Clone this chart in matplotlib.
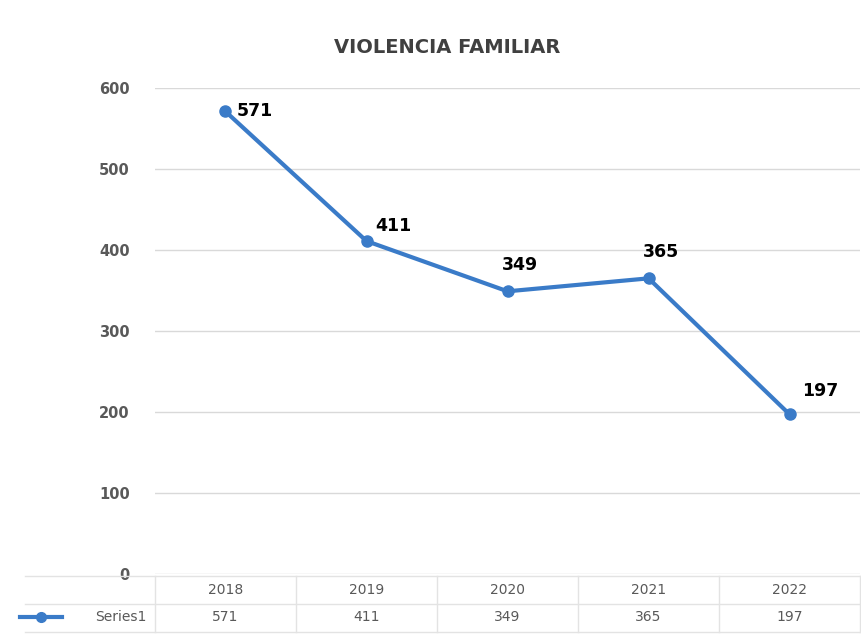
import numpy as np
import matplotlib.pyplot as plt
from matplotlib.transforms import blended_transform_factory
from matplotlib.lines import Line2D

years = ['2018', '2019', '2020', '2021', '2022']
values = [571, 411, 349, 365, 197]
series_name = 'Series1'

blue = '#3a7bc8'
grey = '#595959'

fig = plt.figure(figsize=(8.61, 6.39), dpi=100)
ax = fig.add_axes([0.18, 0.1017, 0.819, 0.7606])

x = np.arange(len(years))
ax.plot(x, values, color=blue, lw=3, marker='o', ms=8, zorder=3)

# etiquetas de datos (desplazamiento en puntos)
offsets = [(8, 0), (6, 11), (-4, 19), (-4, 19), (9, 17)]
for xi, v, (dx, dy) in zip(x, values, offsets):
    ax.annotate(str(v), (xi, v), xytext=(dx, dy), textcoords='offset points',
                fontsize=12.5, fontweight='bold', color='black',
                ha='left', va='center')

ax.set_xlim(-0.5, len(years) - 0.5)
ax.set_ylim(0, 600)
ax.set_yticks(range(0, 601, 100))
ax.yaxis.grid(True, color='#d9d9d9', lw=1)
ax.set_axisbelow(True)
ax.set_xticks([])
for s in ax.spines.values():
    s.set_visible(False)
ax.tick_params(axis='y', length=0, pad=18, labelsize=10.5, labelcolor=grey)
for lab in ax.get_yticklabels():
    lab.set_fontweight('bold')

fig.text(0.519, 0.925, 'VIOLENCIA FAMILIAR', ha='center', va='center',
         fontsize=14, fontweight='bold', color='#404040')

# tabla de datos
tr = blended_transform_factory(ax.transData, fig.transFigure)
row1 = 1 - 590 / 639
row2 = 1 - 617 / 639
for xi, yr, v in zip(x, years, values):
    ax.text(xi, row1, yr, transform=tr, ha='center', va='center',
            fontsize=10, color=grey, clip_on=False)
    ax.text(xi, row2, str(v), transform=tr, ha='center', va='center',
            fontsize=10, color=grey, clip_on=False)

lc = '#e3e3e3'
for yy in [1 - 576 / 639, 1 - 604 / 639, 1 - 632 / 639]:
    fig.add_artist(Line2D([25 / 861, 1.0], [yy, yy], color=lc, lw=1))
for b in np.arange(-0.5, len(years), 1.0):
    ax.plot([b, b], [1 - 576 / 639, 1 - 632 / 639], transform=tr,
            color=lc, lw=1, clip_on=False)
fig.add_artist(Line2D([20 / 861, 62 / 861], [row2, row2], color=blue, lw=3))
fig.add_artist(Line2D([41 / 861], [row2], color=blue, marker='o', ms=7))
fig.text(147 / 861, row2, series_name, ha='right', va='center',
         fontsize=10, color=grey)

fig.savefig('out.png', dpi=100, facecolor='white')
